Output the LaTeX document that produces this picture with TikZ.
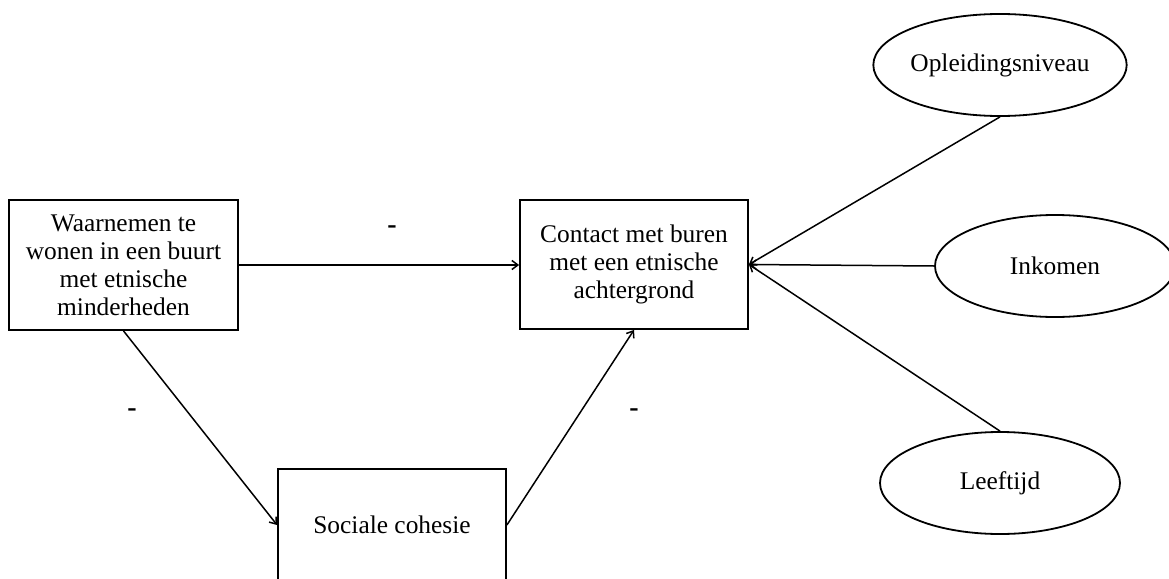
\documentclass[tikz,border=0pt]{standalone}
\usepackage{fontspec}
\setmainfont{Liberation Serif}
\usetikzlibrary{shapes.geometric,arrows.meta}
\tikzset{
  boxnode/.style={draw, line width=1.8pt, align=center, inner sep=0pt,
    font=\fontsize{25.4}{28}\selectfont},
  ovalnode/.style={draw, ellipse, line width=1.8pt, inner sep=0pt,
    minimum width=240pt, minimum height=102pt,
    font=\fontsize{25.4}{28}\selectfont},
  signlabel/.style={font=\fontsize{28}{30}\selectfont\bfseries, inner sep=0pt},
  conn/.style={line width=1.5pt},
  arr/.style={conn, -{Straight Barb[length=6pt,width=9pt,line width=1.5pt]}}
}
\begin{document}
\begin{tikzpicture}[x=1pt,y=-1pt]
\useasboundingbox (0,0) rectangle (1169,578);
\node[boxnode, minimum width=229pt, minimum height=130pt] (b1) at (123.5,265)
  {Waarnemen te\\wonen in een buurt\\met etnische\\minderheden};
\node[boxnode, minimum width=228pt, minimum height=129pt] (b2) at (634,264.5)
  {Contact met buren\\met een etnische\\achtergrond};
\node[boxnode, minimum width=228pt, minimum height=112pt] (b3) at (392,525)
  {Sociale cohesie};
\node[ovalnode] (e1) at (1000,65) {Opleidingsniveau};
\node[ovalnode] (e2) at (1055,266) {Inkomen};
\node[ovalnode] (e3) at (1000,483) {Leeftijd};
\node[signlabel] (s1) at (392,230) {-};
\node[signlabel] (s2) at (132,413) {-};
\node[signlabel] (s3) at (634,413) {-};
\coordinate (tip) at (b2.east);
\draw[arr] (b1.east) -- (b2.west |- b1.east);
\draw[arr] (b1.south) -- (b3.west);
\draw[arr] (b3.east) -- (b2.south);
\draw[arr] (e1.south) -- (tip);
\draw[arr] (e2.west) -- (tip);
\draw[arr] (e3.north) -- (tip);
\end{tikzpicture}
\end{document}
